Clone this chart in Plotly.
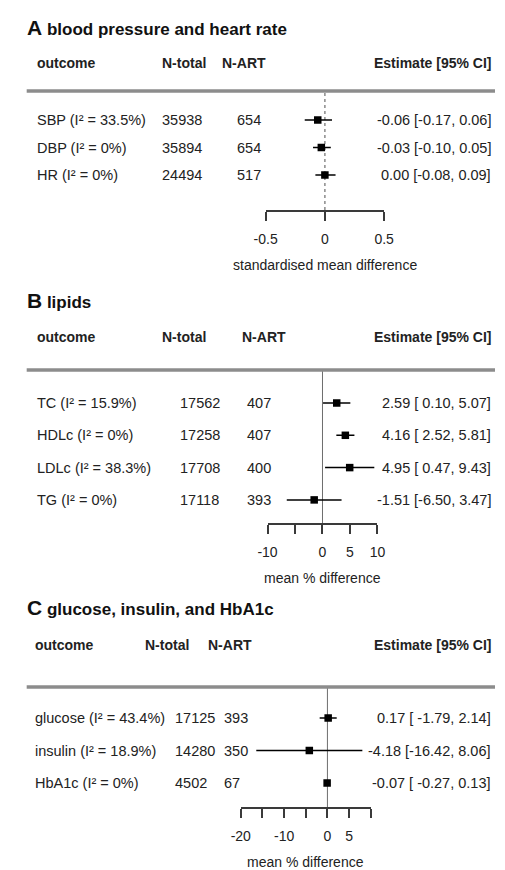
import plotly.graph_objects as go

# ---------------- data ----------------
a_outcomes = ["SBP (I² = 33.5%)", "DBP (I² = 0%)", "HR (I² = 0%)"]
a_ntotal = [35938, 35894, 24494]
a_nart = [654, 654, 517]
a_est = [-0.06, -0.03, 0.00]
a_lo = [-0.17, -0.10, -0.08]
a_hi = [0.06, 0.05, 0.09]
a_est_txt = ["-0.06 [-0.17, 0.06]", "-0.03 [-0.10, 0.05]", "0.00 [-0.08, 0.09]"]
a_ticks = [-0.5, 0, 0.5]
a_ticktext = ["-0.5", "0", "0.5"]

b_outcomes = ["TC (I² = 15.9%)", "HDLc (I² = 0%)", "LDLc (I² = 38.3%)", "TG (I² = 0%)"]
b_ntotal = [17562, 17258, 17708, 17118]
b_nart = [407, 407, 400, 393]
b_est = [2.59, 4.16, 4.95, -1.51]
b_lo = [0.10, 2.52, 0.47, -6.50]
b_hi = [5.07, 5.81, 9.43, 3.47]
b_est_txt = ["2.59 [ 0.10, 5.07]", "4.16 [ 2.52, 5.81]", "4.95 [ 0.47, 9.43]", "-1.51 [-6.50, 3.47]"]
b_ticks = [-10, -5, 0, 5, 10]
b_ticktext = ["-10", "", "0", "5", "10"]

c_outcomes = ["glucose (I² = 43.4%)", "insulin (I² = 18.9%)", "HbA1c (I² = 0%)"]
c_ntotal = [17125, 14280, 4502]
c_nart = [393, 350, 67]
c_est = [0.17, -4.18, -0.07]
c_lo = [-1.79, -16.42, -0.27]
c_hi = [2.14, 8.06, 0.13]
c_est_txt = ["0.17 [ -1.79, 2.14]", "-4.18 [-16.42, 8.06]", "-0.07 [ -0.27, 0.13]"]
c_ticks = [-20, -15, -10, -5, 0, 5, 10]
c_ticktext = ["-20", "", "-10", "", "0", "5", ""]

# ---------------- layout constants (page pixels) ----------------
W, H = 505, 870
OFF = 8  # default body margin of the html page
FW, FH = W - OFF, H - OFF
FONT = "Liberation Sans, Arial, sans-serif"
TXT = "#222222"
FS = 14.5      # table body text
FSH = 14       # bold column headers

panels = [
    dict(letter="A", title="blood pressure and heart rate",
         outcomes=a_outcomes, ntotal=a_ntotal, nart=a_nart, est=a_est, lo=a_lo, hi=a_hi,
         est_txt=a_est_txt, ticks=a_ticks, ticktext=a_ticktext, xlabel="standardised mean difference",
         title_y=27, header_y=63, line_y=91, row0=120, step=27.5, bracket_y=210,
         x_lo=265, x_hi=389, col_out=24, col_nt_h=155, col_na_h=217, col_nt=155, col_na=233,
         dotted=True),
    dict(letter="B", title="lipids",
         outcomes=b_outcomes, ntotal=b_ntotal, nart=b_nart, est=b_est, lo=b_lo, hi=b_hi,
         est_txt=b_est_txt, ticks=b_ticks, ticktext=b_ticktext, xlabel="mean % difference",
         title_y=300, header_y=337, line_y=370, row0=403, step=32.3, bracket_y=523,
         x_lo=267, x_hi=382, col_out=24, col_nt_h=155, col_na_h=238, col_nt=173, col_na=243,
         dotted=False),
    dict(letter="C", title="glucose, insulin, and HbA1c",
         outcomes=c_outcomes, ntotal=c_ntotal, nart=c_nart, est=c_est, lo=c_lo, hi=c_hi,
         est_txt=c_est_txt, ticks=c_ticks, ticktext=c_ticktext, xlabel="mean % difference",
         title_y=607, header_y=645, line_y=687, row0=718, step=32.5, bracket_y=807,
         x_lo=239, x_hi=375, col_out=22, col_nt_h=137, col_na_h=203, col_nt=168, col_na=219,
         dotted=False),
]

EST_RIGHT = 503


def px(x):
    return (x - OFF) / FW


def py(y):
    return 1 - (y - OFF) / FH


fig = go.Figure()
annotations = []
shapes = []
layout_axes = {}

for k, p in enumerate(panels, start=1):
    xname = "x" if k == 1 else f"x{k}"
    yname = "y" if k == 1 else f"y{k}"
    xkey = "xaxis" if k == 1 else f"xaxis{k}"
    ykey = "yaxis" if k == 1 else f"yaxis{k}"
    n = len(p["outcomes"])
    rows = list(range(n))

    yr_bottom = (p["bracket_y"] - p["row0"]) / p["step"]
    yr_top = (p["line_y"] - p["row0"]) / p["step"]

    layout_axes[xkey] = dict(
        domain=[px(p["x_lo"]), px(p["x_hi"])], range=[p["ticks"][0], p["ticks"][-1]],
        anchor=yname, showline=True, linecolor="#3a3a3a", linewidth=1.5,
        ticks="outside", ticklen=9, tickwidth=1.5, tickcolor="#3a3a3a",
        tickvals=p["ticks"], ticktext=p["ticktext"], showgrid=False, zeroline=False,
        tickfont=dict(family=FONT, size=14, color=TXT), ticklabelstandoff=6,
        fixedrange=True,
    )
    layout_axes[ykey] = dict(
        domain=[py(p["bracket_y"]), py(p["line_y"])], range=[yr_bottom, yr_top],
        anchor=xname, visible=False, fixedrange=True,
    )

    # reference line at 0
    shapes.append(dict(type="line", xref=xname, yref=f"{yname} domain", x0=0, x1=0, y0=0, y1=1,
                       line=dict(color="#8a8a8a" if p["dotted"] else "#6e6e6e",
                                 width=1.5 if p["dotted"] else 1,
                                 dash="dot" if p["dotted"] else "solid"),
                       layer="below"))

    # estimates with confidence intervals
    fig.add_trace(go.Scatter(
        x=p["est"], y=rows, mode="markers", xaxis=xname, yaxis=yname,
        marker=dict(symbol="square", size=7.5, color="black"),
        error_x=dict(type="data", symmetric=False,
                     array=[h - e for h, e in zip(p["hi"], p["est"])],
                     arrayminus=[e - l for e, l in zip(p["est"], p["lo"])],
                     width=0, thickness=1.5, color="black"),
        showlegend=False, hoverinfo="skip", cliponaxis=False,
    ))

    # header separator
    shapes.append(dict(type="line", xref="paper", yref="paper", x0=px(15), x1=1,
                       y0=py(p["line_y"]), y1=py(p["line_y"]),
                       line=dict(color="#8c8c8c", width=3.5)))

    # panel title
    annotations.append(dict(
        xref="paper", yref="paper", x=px(13), y=py(p["title_y"]), xanchor="left", yanchor="middle",
        text=f"<b><span style='font-size:21px'>{p['letter']}</span> {p['title']}</b>",
        showarrow=False, font=dict(family=FONT, size=17, color="#111111")))

    # column headers
    for txt, x, anc in [("outcome", p["col_out"], "left"), ("N-total", p["col_nt_h"], "left"),
                        ("N-ART", p["col_na_h"], "left"), ("Estimate [95% CI]", EST_RIGHT, "right")]:
        annotations.append(dict(
            xref="paper", yref="paper", x=px(x), y=py(p["header_y"]), xanchor=anc, yanchor="middle",
            text=f"<b>{txt}</b>", showarrow=False, font=dict(family=FONT, size=FSH, color=TXT)))

    # table rows
    for i in rows:
        for txt, x, anc in [(p["outcomes"][i], p["col_out"], "left"),
                            (str(p["ntotal"][i]), p["col_nt"], "left"),
                            (str(p["nart"][i]), p["col_na"], "left"),
                            (p["est_txt"][i], EST_RIGHT, "right")]:
            annotations.append(dict(
                xref="paper", yref=yname, x=px(x), y=i, xanchor=anc, yanchor="middle",
                text=txt, showarrow=False, font=dict(family=FONT, size=FS, color=TXT)))

    # x-axis title
    annotations.append(dict(
        xref=f"{xname} domain", yref="paper", x=0.5, y=py(p["bracket_y"] + 55), xanchor="center",
        yanchor="middle", text=p["xlabel"], showarrow=False,
        font=dict(family=FONT, size=14, color=TXT)))

fig.update_layout(
    width=FW, height=FH, margin=dict(l=0, r=0, t=0, b=0),
    paper_bgcolor="white", plot_bgcolor="rgba(0,0,0,0)",
    annotations=annotations, shapes=shapes, **layout_axes,
)

fig.write_html("out.html", config={"displayModeBar": False})
